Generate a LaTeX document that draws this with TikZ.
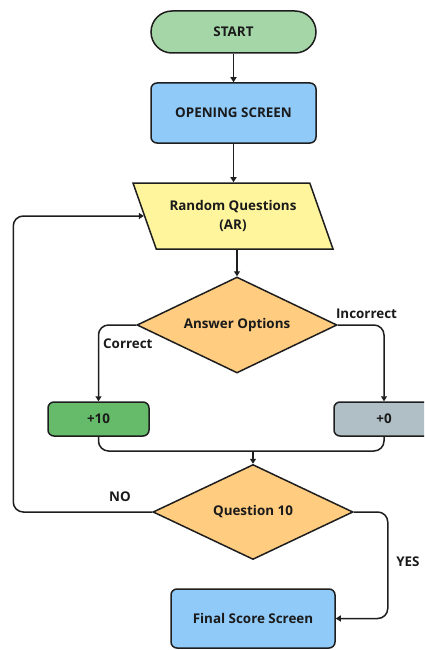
\documentclass[tikz,border=0pt]{standalone}
\usepackage{fontspec}
\setmainfont{Open Sans}
\usetikzlibrary{shapes.geometric,arrows.meta}
\definecolor{linec}{HTML}{1E1E1E}
\definecolor{textc}{HTML}{1A1A1A}
\definecolor{startc}{HTML}{A5D6A7}
\definecolor{bluec}{HTML}{90CAF9}
\definecolor{yellowc}{HTML}{FFF59D}
\definecolor{orangec}{HTML}{FFCC80}
\definecolor{greenc}{HTML}{66BB6A}
\definecolor{greyc}{HTML}{B0BEC5}
\begin{document}
\begin{tikzpicture}[x=1pt,y=-1pt,
  font=\fontsize{13.4}{19}\selectfont\bfseries,
  box/.style={draw=linec, line width=1.5pt, rounded corners=6pt, align=center, text=textc, inner sep=0pt},
  term/.style={box, rounded corners=21pt, fill=startc, minimum width=165pt, minimum height=42pt},
  para/.style={trapezium, draw=linec, line width=1.5pt, fill=yellowc, trapezium left angle=126.6, trapezium right angle=53.4, trapezium stretches body, minimum width=200pt, minimum height=66pt, align=center, text=textc, inner sep=0pt},
  dia/.style={diamond, draw=linec, line width=1.5pt, fill=orangec, aspect=2.1, minimum width=200pt, inner sep=0pt, text=textc},
  lbl/.style={text=textc, inner sep=0pt},
  conn/.style={draw=linec, line width=1.5pt, rounded corners=10pt, -{Triangle[length=5pt,width=6pt]}},
  plain/.style={draw=linec, line width=1.5pt, rounded corners=10pt}]
\useasboundingbox (0,0) rectangle (424,650);
\clip (0,0) rectangle (424,650);
\node[term] (start) at (233.5,32) {START};
\node[box, fill=bluec, minimum width=165pt, minimum height=60pt] (open) at (233.5,113) {OPENING SCREEN};
\node[para] (rq) at (233,216) {Random Questions\\(AR)};
\node[dia, minimum height=96pt] (ans) at (237,325) {Answer Options};
\node[box, fill=greenc, minimum width=101pt, minimum height=34pt] (p10) at (98.5,419) {+10};
\node[box, fill=greyc, minimum width=100pt, minimum height=34pt] (p0) at (384,419) {+0};
\node[dia, minimum height=95pt] (q10) at (253,512) {Question 10};
\node[box, fill=bluec, minimum width=164pt, minimum height=59pt] (final) at (253,618.5) {Final Score Screen};
\node[lbl, anchor=west] (lc) at (103,344) {Correct};
\node[lbl] (li) at (366.5,314) {Incorrect};
\node[lbl] (lno) at (120,497) {NO};
\node[lbl] (lyes) at (408,562) {YES};
\coordinate (merge) at (q10.north |- 0,451);
\draw[conn] (start) -- (open);
\draw[conn] (open.south) -- (open.south |- rq.north);
\draw[conn] (rq.south -| ans.north) -- (ans.north);
\draw[conn] (ans.west) -| (p10.north);
\draw[conn] (ans.east) -| (p0.north);
\draw[plain] (p10.south) |- (merge) -| (p0.south);
\draw[conn] (merge) -- (q10.north);
\draw[conn] (q10.west) -- ++(-139,0) |- (rq.left side);
\draw[conn] (q10.east) -- ++(34,0) |- (final.east);
\end{tikzpicture}
\end{document}
